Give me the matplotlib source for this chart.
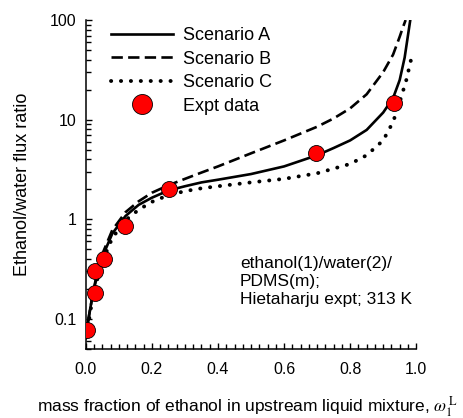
import numpy as np
import matplotlib
matplotlib.use("Agg")
import matplotlib.pyplot as plt
from matplotlib.ticker import MultipleLocator, LogLocator, FuncFormatter, NullFormatter

plt.rcParams['font.family'] = ['Liberation Sans', 'DejaVu Sans']
plt.rcParams['mathtext.fontset'] = 'stix'

# Scenario A (solid)
xa = [0.0, 0.005, 0.01, 0.02, 0.03, 0.05, 0.08, 0.12, 0.16, 0.2, 0.25, 0.3, 0.35, 0.4,
      0.5, 0.6, 0.7, 0.75, 0.8, 0.85, 0.9, 0.93, 0.95, 0.965, 0.975, 0.982]
ya = [0.065, 0.085, 0.11, 0.17, 0.24, 0.42, 0.72, 1.08, 1.4, 1.65, 1.95, 2.15, 2.35, 2.5,
      2.85, 3.4, 4.4, 5.2, 6.2, 7.9, 11.8, 16.5, 25, 42, 70, 100]

# Scenario B (dashed)
xb = [0.0, 0.01, 0.02, 0.03, 0.05, 0.08, 0.12, 0.16, 0.2, 0.25, 0.3, 0.35, 0.4,
      0.5, 0.6, 0.7, 0.75, 0.8, 0.85, 0.9, 0.93, 0.95, 0.96, 0.968]
yb = [0.065, 0.11, 0.17, 0.25, 0.45, 0.78, 1.18, 1.52, 1.85, 2.2, 2.55, 2.95, 3.4,
      4.6, 6.2, 8.5, 10.3, 13, 18, 30, 45, 68, 85, 100]

# Scenario C (dotted)
xc = [0.0, 0.01, 0.02, 0.03, 0.05, 0.08, 0.12, 0.16, 0.2, 0.25, 0.3, 0.35, 0.4,
      0.5, 0.6, 0.7, 0.8, 0.85, 0.9, 0.93, 0.95, 0.97, 0.985]
yc = [0.065, 0.1, 0.16, 0.22, 0.38, 0.65, 0.98, 1.25, 1.5, 1.75, 1.92, 2.05, 2.15,
      2.35, 2.55, 2.9, 3.6, 4.4, 6.2, 9.5, 15, 25, 41]

# experimental data
x_expt = [0.004, 0.028, 0.027, 0.055, 0.118, 0.252, 0.698, 0.934]
y_expt = [0.078, 0.183, 0.30, 0.40, 0.86, 2.03, 4.6, 14.7]

fig = plt.figure(figsize=(4.64, 4.18), dpi=100)
ax = fig.add_axes([0.185, 0.165, 0.712, 0.787])

ax.plot(xa, ya, color='black', lw=1.9, label='Scenario A')
ax.plot(xb, yb, color='black', lw=1.9, linestyle=(0, (4.3, 2.0)), label='Scenario B')
ax.plot(xc, yc, color='black', lw=2.8, linestyle=(0, (0.05, 2.5)),
        dash_capstyle='round', label='Scenario C')
ax.plot(x_expt, y_expt, 'o', color='red', markeredgecolor='black', markeredgewidth=0.6,
        markersize=11.5, linestyle='none', label='Expt data', zorder=5)

ax.set_yscale('log')
ax.set_xlim(0, 1.0)
ax.set_ylim(0.05, 100)

ax.xaxis.set_major_locator(MultipleLocator(0.2))
ax.xaxis.set_minor_locator(MultipleLocator(0.025))
ax.xaxis.set_major_formatter(FuncFormatter(lambda v, p: '%.1f' % v))
ax.yaxis.set_major_locator(LogLocator(base=10, numticks=10))
ax.yaxis.set_minor_locator(LogLocator(base=10, subs=np.arange(2, 10), numticks=10))
ax.yaxis.set_major_formatter(FuncFormatter(lambda v, p: '%g' % v))
ax.yaxis.set_minor_formatter(NullFormatter())

for s in ['top', 'right']:
    ax.spines[s].set_visible(False)
for s in ['left', 'bottom']:
    ax.spines[s].set_linewidth(1.1)

ax.tick_params(which='both', direction='in', labelsize=11.5, width=1.0, color='black')
ax.tick_params(which='major', length=4.5)
ax.tick_params(which='minor', length=3.5)
ax.tick_params(axis='y', pad=6.5)
ax.tick_params(axis='x', pad=9)

ax.set_ylabel('Ethanol/water flux ratio', fontsize=13)
ax.yaxis.set_label_coords(-0.165, 0.5)
ax.set_xlabel(r'mass fraction of ethanol in upstream liquid mixture, $\omega_1^{\,\mathrm{L}}$',
              fontsize=12.5)
ax.xaxis.set_label_coords(0.489, -0.137)

ax.text(0.467, 0.282, 'ethanol(1)/water(2)/\nPDMS(m);\nHietaharju expt; 313 K',
        transform=ax.transAxes, fontsize=12.5, va='top', ha='left', linespacing=1.25)

ax.legend(loc='upper left', frameon=False, fontsize=13, handlelength=3.4,
          handletextpad=0.55, labelspacing=0.36, borderaxespad=0.0,
          bbox_to_anchor=(0.055, 1.0), numpoints=1, markerscale=1.25)

fig.savefig('out.png', dpi=100)
